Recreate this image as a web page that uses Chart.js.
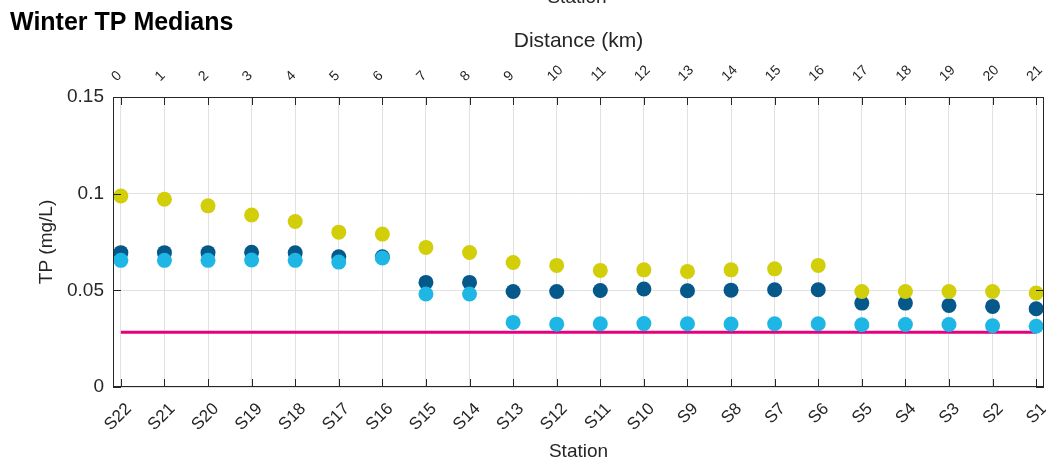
<!DOCTYPE html>
<html>
<head>
<meta charset="utf-8">
<title>Winter TP Medians</title>
<script src="https://cdn.jsdelivr.net/npm/chart.js@4"></script>
<style>
  html, body { margin: 0; padding: 0; background: #fff; }
</style>
</head>
<body>
<canvas id="chart" width="1046" height="461"></canvas>
<script>
// stations from upstream (S22) to downstream (S1), with distance along the river
const stations = ['S22', 'S21', 'S20', 'S19', 'S18', 'S17', 'S16', 'S15', 'S14', 'S13', 'S12',
  'S11', 'S10', 'S9', 'S8', 'S7', 'S6', 'S5', 'S4', 'S3', 'S2', 'S1'];
const distances = [0, 1, 2, 3, 4, 5, 6, 7, 8, 9, 10, 11, 12, 13, 14, 15, 16, 17, 18, 19, 20, 21];

// winter TP medians (mg/L)
const yellowTP = [0.0988, 0.0971, 0.0937, 0.0890, 0.0856, 0.0801, 0.0791, 0.0722, 0.0696, 0.0644, 0.0629,
  0.0603, 0.0606, 0.0598, 0.0606, 0.0611, 0.0629, 0.0494, 0.0494, 0.0494, 0.0494, 0.0486];
const darkTP = [0.0695, 0.0695, 0.0695, 0.0697, 0.0694, 0.0674, 0.0674, 0.0541, 0.0541, 0.0494, 0.0494,
  0.0499, 0.0507, 0.0498, 0.0501, 0.0503, 0.0503, 0.0434, 0.0434, 0.0422, 0.0417, 0.0405];
const lightTP = [0.0655, 0.0655, 0.0655, 0.0657, 0.0655, 0.0646, 0.0667, 0.0481, 0.0481, 0.0334, 0.0325,
  0.0327, 0.0328, 0.0327, 0.0326, 0.0327, 0.0327, 0.0322, 0.0323, 0.0323, 0.0317, 0.0314];
const targetTP = 0.0283;

const yMin = 0, yMax = 0.15, yStep = 0.05;
const strayLabel = 'Station'; // cut-off axis title left over at the very top of the image

const FONT = "'Liberation Sans', Arial, Helvetica, sans-serif";
const INK = '#262626';
const GRID = '#e1e1e1';

const points = (vals) => vals.map((v, i) => ({ x: i, y: v }));

// keep the plot box where the figure has it, whatever the rotated labels want
const fixHeight = (h) => (s) => { s.height = h; s.paddingLeft = 0; s.paddingRight = 0; };

// MATLAB-style box with inward ticks
const frameAndTicks = {
  id: 'frameAndTicks',
  afterDraw(chart) {
    const { ctx, chartArea: a, scales } = chart;
    ctx.save();
    ctx.strokeStyle = INK;
    ctx.lineWidth = 1;
    ctx.beginPath();
    scales.x.ticks.forEach((t, i) => {
      const px = Math.round(scales.x.getPixelForTick(i)) + 0.5;
      ctx.moveTo(px, a.bottom); ctx.lineTo(px, a.bottom - 8);
      ctx.moveTo(px, a.top); ctx.lineTo(px, a.top + 8);
    });
    scales.y.ticks.forEach((t, i) => {
      const py = Math.round(scales.y.getPixelForTick(i)) + 0.5;
      ctx.moveTo(a.left, py); ctx.lineTo(a.left + 8, py);
      ctx.moveTo(a.right, py); ctx.lineTo(a.right - 8, py);
    });
    ctx.stroke();
    ctx.strokeRect(Math.round(a.left) + 0.5, Math.round(a.top) + 0.5,
      Math.round(a.right - a.left) - 1, Math.round(a.bottom - a.top) - 1);

    ctx.fillStyle = INK;
    ctx.font = '19px ' + FONT;
    ctx.textAlign = 'center';
    ctx.textBaseline = 'alphabetic';
    ctx.fillText(strayLabel, 577, 3);
    ctx.restore();
  }
};

new Chart(document.getElementById('chart'), {
  type: 'scatter',
  data: {
    datasets: [
      {
        label: 'Series A',
        data: points(yellowTP),
        backgroundColor: 'rgb(211, 206, 10)',
        pointRadius: 7.5,
        pointBorderWidth: 0,
        order: 1
      },
      {
        label: 'Series C',
        data: points(lightTP),
        backgroundColor: 'rgb(30, 182, 228)',
        pointRadius: 7.5,
        pointBorderWidth: 0,
        order: 2
      },
      {
        label: 'Series B',
        data: points(darkTP),
        backgroundColor: 'rgb(4, 88, 138)',
        pointRadius: 7.5,
        pointBorderWidth: 0,
        order: 3
      },
      {
        label: 'Target',
        type: 'line',
        data: [{ x: 0, y: targetTP }, { x: stations.length - 1, y: targetTP }],
        borderColor: 'rgb(229, 0, 125)',
        borderWidth: 3,
        pointRadius: 0,
        fill: false,
        order: 4
      }
    ]
  },
  options: {
    responsive: false,
    animation: false,
    devicePixelRatio: 1,
    layout: { autoPadding: false, padding: { left: 10, right: 2, top: 0, bottom: 0 } },
    plugins: {
      legend: { display: false },
      tooltip: { enabled: false },
      title: {
        display: true,
        text: 'Winter TP Medians',
        align: 'start',
        color: '#000',
        font: { family: FONT, size: 25, weight: 'bold', lineHeight: 1 },
        padding: { top: 11, bottom: -8 }
      }
    },
    scales: {
      x: {
        type: 'linear',
        position: 'bottom',
        min: -0.18,
        max: stations.length - 1 + 0.18,
        afterBuildTicks: (s) => { s.ticks = stations.map((_, i) => ({ value: i })); },
        afterFit: fixHeight(74),
        border: { display: false },
        grid: { color: GRID, drawTicks: false },
        ticks: {
          color: INK,
          font: { family: FONT, size: 17 },
          minRotation: 45,
          maxRotation: 45,
          padding: 12,
          labelOffset: 8,
          callback: (v) => stations[v]
        },
        title: {
          display: true,
          text: 'Station',
          color: INK,
          font: { family: FONT, size: 19, lineHeight: 1 },
          padding: { top: 0, bottom: 0 }
        }
      },
      x2: {
        type: 'linear',
        position: 'top',
        min: -0.18,
        max: stations.length - 1 + 0.18,
        afterBuildTicks: (s) => { s.ticks = distances.map((_, i) => ({ value: i })); },
        afterFit: fixHeight(69),
        border: { display: false },
        grid: { display: false, drawTicks: false },
        ticks: {
          color: INK,
          font: { family: FONT, size: 14 },
          minRotation: 45,
          maxRotation: 45,
          padding: 12,
          labelOffset: 5,
          callback: (v) => String(distances[v])
        },
        title: {
          display: true,
          text: 'Distance (km)',
          color: INK,
          font: { family: FONT, size: 21, lineHeight: 1 },
          padding: { top: 3, bottom: 0 }
        }
      },
      y: {
        type: 'linear',
        min: yMin,
        max: yMax,
        afterFit: (s) => { s.width = 103; s.paddingTop = 0; s.paddingBottom = 0; },
        border: { display: false },
        grid: { color: GRID, drawTicks: false },
        ticks: {
          stepSize: yStep,
          color: INK,
          font: { family: FONT, size: 19 },
          padding: 9,
          callback: (v) => String(Number(v.toFixed(2)))
        },
        title: {
          display: true,
          text: 'TP (mg/L)',
          color: INK,
          font: { family: FONT, size: 19 },
          padding: { top: 25, bottom: 0 }
        }
      }
    }
  },
  plugins: [frameAndTicks]
});
</script>
</body>
</html>
